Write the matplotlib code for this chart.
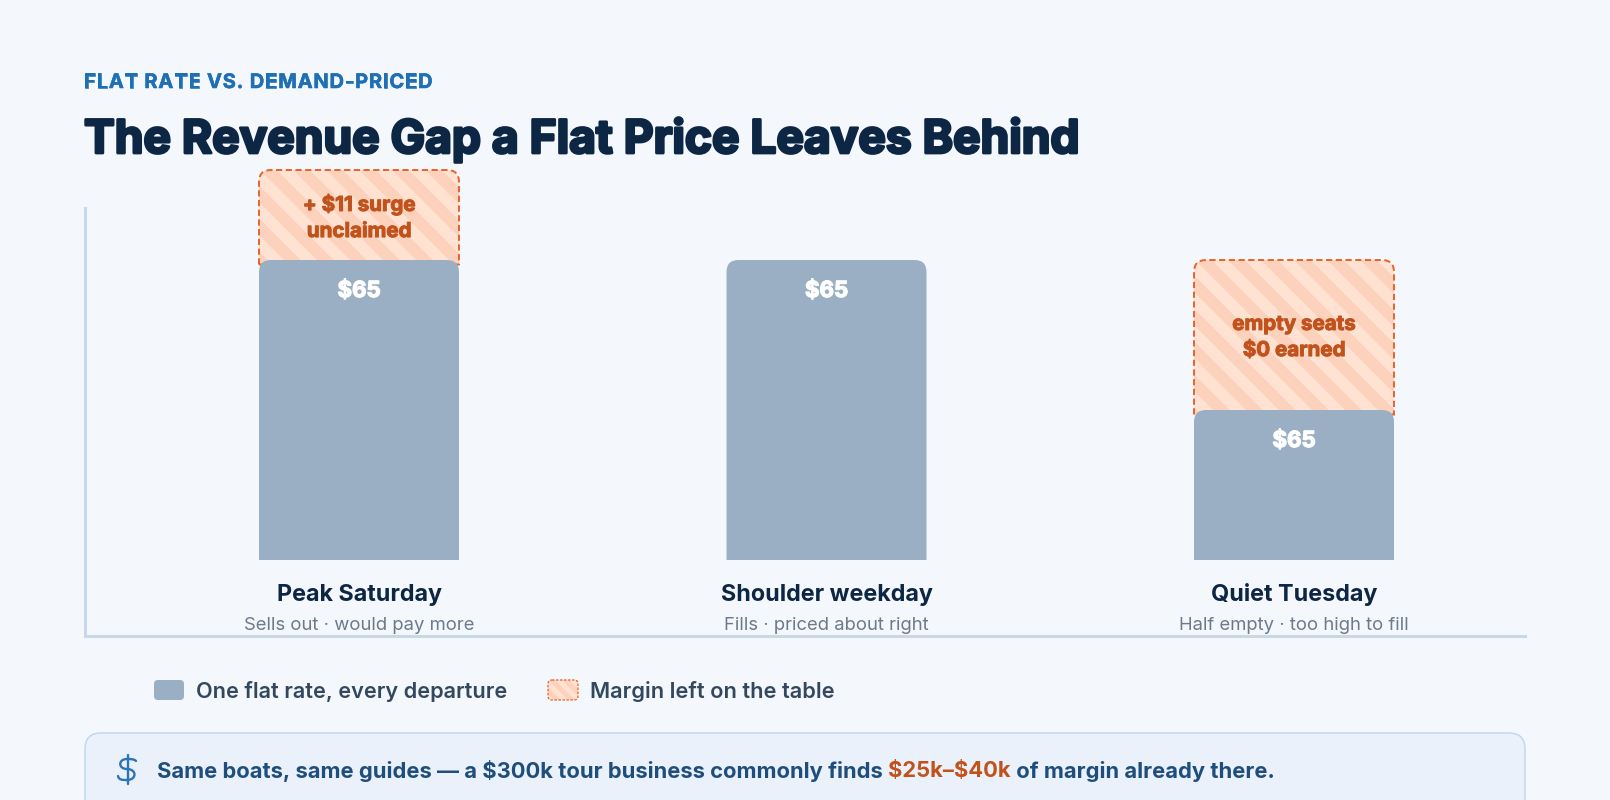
import matplotlib
matplotlib.use("Agg")
import matplotlib.pyplot as plt
import matplotlib.patheffects as pe
from matplotlib.patches import FancyBboxPatch, PathPatch
from matplotlib.path import Path
from matplotlib.collections import PolyCollection

# seat share filled on each departure (bar) and share that goes uncollected (hatched box)
days = ["Peak Saturday", "Shoulder weekday", "Quiet Tuesday"]
notes = ["Sells out · would pay more", "Fills · priced about right", "Half empty · too high to fill"]
flat_share = [100, 100, 50]
gap_share = [30, 0, 50]
price_labels = ["$65", "$65", "$65"]
gap_labels = ["+ $11 surge\nunclaimed", "", "empty seats\n$0 earned"]

BG = "#F4F8FD"
BAR = "#9AAFC4"
NAVY = "#0C2644"
ORANGE = "#C2521C"
DASH = "#E8622C"
STRIPE_A = "#FFE2D2"
STRIPE_B = "#FCD2BC"
AXIS = "#C9D7E6"
FONT = ["Inter", "DejaVu Sans"]

W, H = 1610, 800
fig = plt.figure(figsize=(W / 100, H / 100), dpi=100, facecolor=BG)

# overlay in pixel units for the header, legend and footer
page = fig.add_axes([0, 0, 1, 1], xlim=(0, W), ylim=(H, 0))
page.axis("off")

# plot axes, y = 0 sits at pixel 560 and 100% spans 300 px
left, right, top, bottom = 85, 1525, 170, 636
ax = fig.add_axes([left / W, 1 - bottom / H, (right - left) / W, (bottom - top) / H])
ax.patch.set_alpha(0)
PX_X = 467.5
PX_Y = 3.0
ax.set_xlim((left - 359) / PX_X, (right - 359) / PX_X)
ax.set_ylim((560 - bottom) / PX_Y, (560 - top) / PX_Y)
ax.set_xticks([])
ax.set_yticks([])
for s in ["top", "right"]:
    ax.spines[s].set_visible(False)
for s in ["left", "bottom"]:
    ax.spines[s].set_color(AXIS)
    ax.spines[s].set_linewidth(2.2)
ax.spines["left"].set_bounds((560 - bottom) / PX_Y, (560 - 208) / PX_Y)


def top_round(x0, x1, y0, y1, r=12):
    # rectangle in data units with rounded top corners, r in pixels
    rx, ry = r / PX_X, r / PX_Y
    verts = [(x0, y0), (x0, y1 - ry), (x0, y1), (x0 + rx, y1), (x1 - rx, y1),
             (x1, y1), (x1, y1 - ry), (x1, y0), (x0, y0)]
    codes = [Path.MOVETO, Path.LINETO, Path.CURVE3, Path.CURVE3, Path.LINETO,
             Path.CURVE3, Path.CURVE3, Path.LINETO, Path.CLOSEPOLY]
    return Path(verts, codes)


bar_w = 200 / PX_X
for i in range(len(days)):
    x0, x1 = i - bar_w / 2, i + bar_w / 2
    fl, gp = flat_share[i], gap_share[i]
    if gp > 0:
        low = fl - 1.5
        shape = top_round(x0, x1, low, fl + gp)
        ax.add_patch(PathPatch(shape, fc=STRIPE_A, ec="none", zorder=2, clip_on=False))
        # diagonal stripes, 45 degrees on screen
        step_px, band_px = 33.0, 16.5
        stripes = []
        for k in range(-12, 14):
            a = i + k * step_px / PX_X
            b = a + band_px / PX_X
            h = (fl + gp - low) * PX_Y / PX_X
            stripes.append([(a, fl + gp), (b, fl + gp), (b + h, low), (a + h, low)])
        pc = PolyCollection(stripes, facecolors=STRIPE_B, edgecolors="none", zorder=2.1)
        ax.add_collection(pc, autolim=False)
        pc.set_clip_path(PathPatch(shape, transform=ax.transData))
        ax.add_patch(PathPatch(shape, fc="none", ec=DASH, lw=1.4, ls=(0, (3.2, 1.8)), zorder=2.2, clip_on=False))
        ax.text(i, fl + gp / 2 - 1.0, gap_labels[i], ha="center", va="center", color=ORANGE,
                fontsize=14.8, fontweight="bold", family=FONT, linespacing=1.58, zorder=4, parse_math=False,
                path_effects=[pe.withStroke(linewidth=0.7, foreground=ORANGE)])
    ax.add_patch(PathPatch(top_round(x0, x1, 0, fl), fc=BAR, ec="none", zorder=3))
    ax.text(i, fl - 31 / PX_Y, price_labels[i], ha="center", va="center", color="white",
            fontsize=16, fontweight="bold", family=FONT, zorder=4, parse_math=False,
            path_effects=[pe.withStroke(linewidth=0.9, foreground="white")])
    ax.text(i, (560 - 595) / PX_Y, days[i], ha="center", va="center", color=NAVY,
            fontsize=16.8, fontweight="bold", family=FONT)
    ax.text(i, (560 - 625) / PX_Y, notes[i], ha="center", va="center", color="#6C7A8C",
            fontsize=13.3, family=FONT)


def tracked(x, y, txt, spacing, **kw):
    # matplotlib has no letter spacing, so place the eyebrow glyph by glyph
    rend = fig.canvas.get_renderer()
    for n, ch in enumerate(txt):
        probe = page.text(0, 0, txt[:n].replace(" ", "\u00a0") or "", **kw)
        adv = probe.get_window_extent(rend).width if n else 0
        probe.remove()
        page.text(x + adv + n * spacing, y, ch, ha="left", va="center", **kw)


tracked(84, 83, "FLAT RATE VS. DEMAND-PRICED", 0.85, color="#1F6FB5", fontsize=14.4,
        fontweight="bold", family=FONT, path_effects=[pe.withStroke(linewidth=0.4, foreground="#1F6FB5")])
page.text(84, 140, "The Revenue Gap a Flat Price Leaves Behind", ha="left", va="center", color=NAVY,
          fontsize=33.2, fontweight="bold", family=FONT,
          path_effects=[pe.withStroke(linewidth=2.0, foreground=NAVY)])

# legend
page.add_patch(FancyBboxPatch((154, 680), 30, 20, boxstyle="round,pad=0,rounding_size=4", fc=BAR, ec="none"))
page.text(196, 691, "One flat rate, every departure", ha="left", va="center", color="#33475E",
          fontsize=15.6, fontweight="semibold", family=FONT)
page.add_patch(FancyBboxPatch((548, 680), 30, 20, boxstyle="round,pad=0,rounding_size=4", fc=STRIPE_A,
                              ec="none", zorder=3))
sw_stripes = PolyCollection([[(548 + k * 14, 680), (548 + k * 14 + 7, 680), (548 + k * 14 + 27, 700),
                              (548 + k * 14 + 20, 700)] for k in range(-3, 4)],
                            facecolors=STRIPE_B, edgecolors="none", zorder=3.1)
page.add_collection(sw_stripes, autolim=False)
sw_stripes.set_clip_path(FancyBboxPatch((548, 680), 30, 20, boxstyle="round,pad=0,rounding_size=4",
                                        transform=page.transData))
page.add_patch(FancyBboxPatch((548, 680), 30, 20, boxstyle="round,pad=0,rounding_size=4", fc="none",
                              ec=DASH, lw=0.9, ls=(0, (2, 1.2)), zorder=3.2))
page.text(590, 691, "Margin left on the table", ha="left", va="center", color="#33475E",
          fontsize=15.7, fontweight="semibold", family=FONT)

# footer callout runs off the bottom edge
page.add_patch(FancyBboxPatch((85, 733), 1440, 100, boxstyle="round,pad=0,rounding_size=16",
                              fc="#EAF1FB", ec="#BFD5EA", lw=1))
page.plot([127.5, 127.5], [755, 784], color="#2B74B8", lw=1.7, solid_capstyle="round")
s_curve = Path([(136, 761), (134, 759), (131, 759), (127, 759),
                (118, 759), (118, 769), (127, 769),
                (137, 769), (137, 780), (127, 780),
                (122, 780), (119, 780), (118, 776)],
               [Path.MOVETO] + [Path.CURVE4] * 12)
page.add_patch(PathPatch(s_curve, fc="none", ec="#2B74B8", lw=1.7, capstyle="round"))

# sentence with a highlighted span, each piece starts where the last one ended
parts = [("Same boats, same guides — a $300k tour business commonly finds ", "#1F4E7D"),
         ("$25k–$40k", ORANGE),
         (" of margin already there.", "#1F4E7D")]
rend = fig.canvas.get_renderer()
xpos = 157
for txt, col in parts:
    t = page.text(xpos, 771, txt.replace(" ", "\u00a0"), ha="left", va="center", color=col, fontsize=15.8,
                  fontweight="bold", family=FONT, parse_math=False)
    xpos = t.get_window_extent(rend).x1

fig.savefig("out.png", dpi=100, facecolor=BG)
